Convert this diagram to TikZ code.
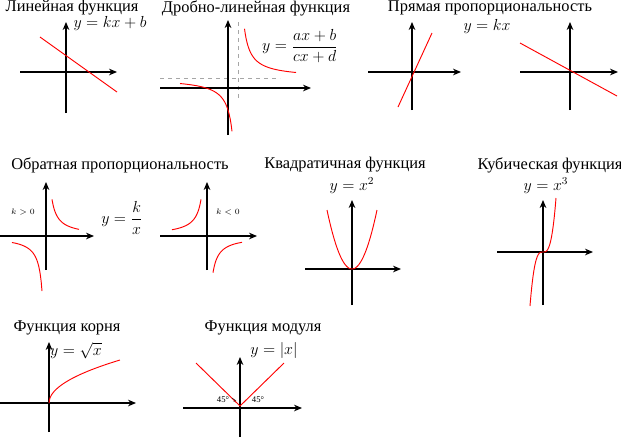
\documentclass[tikz,border=0pt]{standalone}
\usepackage{amsmath}
\usepackage{fontspec}
\setmainfont{Liberation Serif}
\usetikzlibrary{arrows.meta}
\begin{document}
\begin{tikzpicture}[x=0.75pt,y=-0.75pt,
  ax/.style={line width=0.8pt,-{Stealth[length=6pt,width=5pt]}},
  cv/.style={red,line width=0.7pt},
  dsh/.style={gray!70,dashed,line width=0.4pt},
  ttl/.style={font=\fontsize{12.3}{14}\selectfont,inner sep=0pt},
  fm/.style={font=\fontsize{12}{14}\selectfont,inner sep=0pt},
  sm/.style={font=\fontsize{6.5}{8}\selectfont,inner sep=0pt}]
\useasboundingbox (0,0) rectangle (621,444);
% Panel 1
\node[ttl] (t1) at (72,8) {Линейная функция};
\node[fm] (f1) at (110,23) {$y=kx+b$};
\coordinate (a1b) at (66,113); \coordinate (a1t) at (66,22);
\coordinate (a1l) at (20,72); \coordinate (a1r) at (117,72);
\draw[ax] (a1b) -- (a1t); \draw[ax] (a1l) -- (a1r);
\coordinate (l1a) at (40,37); \coordinate (l1b) at (117,92);
\draw[cv] (l1a) -- (l1b);
% Panel 2
\node[ttl] (t2) at (256,8) {Дробно-линейная функция};
\node[fm] (f2) at (300,46) {$y=\dfrac{ax+b}{cx+d}$};
\coordinate (a2b) at (228,135); \coordinate (a2t) at (228,20);
\coordinate (a2l) at (160,88); \coordinate (a2r) at (311,88);
\draw[dsh] (238,22) -- (238,100);
\draw[dsh] (160,78) -- (280,78);
\draw[ax] (a2b) -- (a2t); \draw[ax] (a2l) -- (a2r);
\draw[cv,domain=244.5:296,samples=60] plot (\x,{78-320/(\x-238)});
\draw[cv,domain=180:232,samples=60] plot (\x,{78+320/(238-\x)});
% Panel 3
\node[ttl] (t3) at (490,8) {Прямая пропорциональность};
\node[fm] (f3) at (487,26) {$y=kx$};
\draw[ax] (412,110) -- (412,22); \draw[ax] (368,72) -- (461,72);
\draw[cv] (398,107) -- (432,33);
\draw[ax] (570,110) -- (570,22); \draw[ax] (520,72) -- (618,72);
\draw[cv] (520,43) -- (617,96);
% Inverse
\node[ttl] (t4) at (120,165) {Обратная пропорциональность};
\node[fm] (f4) at (122,218) {$y=\dfrac{k}{x}$};
\node[sm] (k1) at (23,212) {$k>0$};
\node[sm] (k2) at (228,212) {$k<0$};
\draw[ax] (46,270) -- (46,182); \draw[ax] (0,236) -- (94,236);
\draw[cv,domain=52:79,samples=40] plot (\x,{236-220/(\x-46)});
\draw[cv,domain=12:42,samples=40] plot (\x,{236+220/(46-\x)});
\draw[ax] (207,270) -- (207,182); \draw[ax] (160,236) -- (257,236);
\draw[cv,domain=172:201,samples=40] plot (\x,{236-220/(207-\x)});
\draw[cv,domain=213:242,samples=40] plot (\x,{236+220/(\x-207)});
% Quadratic
\node[ttl] (t5) at (345,165) {Квадратичная функция};
\node[fm] (f5) at (352,186) {$y=x^2$};
\draw[ax] (352,305) -- (352,200); \draw[ax] (305,269) -- (401,269);
\draw[cv,domain=-25:25,samples=60] plot ({352+\x},{269-59*(\x/25)^2});
% Cubic
\node[ttl] (t6) at (550,165) {Кубическая функция};
\node[fm] (f6) at (546,186) {$y=x^3$};
\draw[ax] (543,305) -- (543,200); \draw[ax] (497,252) -- (593,252);
\draw[cv,domain=-13:13,samples=80] plot ({543+\x},{252-54*(\x/13)^3});
% Root
\node[ttl] (t7) at (67,328) {Функция корня};
\node[fm] (f7) at (76,351) {$y=\sqrt{x}$};
\draw[ax] (49,432) -- (49,342); \draw[ax] (0,403) -- (136,403);
\draw[cv,domain=0:71,samples=80] plot ({49+\x},{403-43*sqrt(\x/71)});
% Modulus
\node[ttl] (t8) at (263,328) {Функция модуля};
\node[fm] (f8) at (274,350) {$y=|x|$};
\draw[ax] (240,437) -- (240,357); \draw[ax] (183,408) -- (302,408);
\draw[cv] (196,363) -- (240,406) -- (284,363);
\node[sm] (g1) at (223,400) {45°};
\node[sm] (g2) at (258,400) {45°};
\draw[line width=0.3pt] (232,398) arc (135:115:10);
\draw[line width=0.3pt] (236,400) arc (45:65:8);
\end{tikzpicture}
\end{document}
